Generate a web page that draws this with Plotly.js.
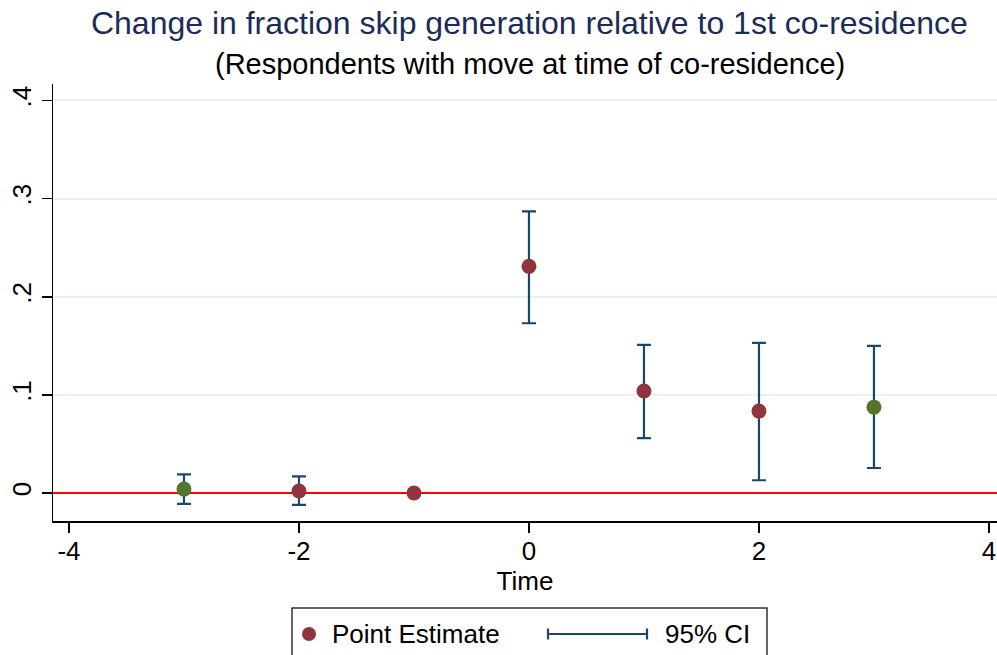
<!DOCTYPE html>
<html>
<head>
<meta charset="utf-8">
<script src="https://cdn.plot.ly/plotly-3.0.1.min.js"></script>
<style>html,body{margin:0;padding:0;background:#fff;}#chart{width:997px;height:655px;}</style>
</head>
<body>
<div id="chart"></div>
<script>
// Data
const time      = [-3, -2, -1, 0, 1, 2, 3];
const estimate  = [0.004, 0.002, 0.000, 0.231, 0.104, 0.0835, 0.0875];
const ciUpper   = [0.019, 0.017, null, 0.287, 0.151, 0.153, 0.150];
const ciLower   = [-0.011, -0.012, null, 0.173, 0.056, 0.013, 0.0255];
const pointGroup = ['green', 'red', 'red', 'red', 'red', 'red', 'green'];
const yTickVals = [0, 0.1, 0.2, 0.3, 0.4];
const yTickText = ['0', '.1', '.2', '.3', '.4'];
const xTickVals = [-4, -2, 0, 2, 4];
const xTickText = ['-4', '-2', '0', '2', '4'];
const legendLabels = ['Point Estimate', '95% CI'];

const NAVY = '#1a476f', MAROON = '#90353b', GREEN = '#55752f', TITLE = '#1c2b5a';
const FONT = 'Liberation Sans, Arial, Helvetica, sans-serif';

// plot-area geometry helpers for the hand-drawn legend (pixels -> paper)
const PL = 53, PR = 997, PT = 84, PB = 521;
const px = v => (v - PL) / (PR - PL);
const py = v => (PB - v) / (PB - PT);

const ciIdx = time.map((t, i) => i).filter(i => ciUpper[i] !== null);
const ciTrace = {
  x: ciIdx.map(i => time[i]),
  y: ciIdx.map(i => estimate[i]),
  type: 'scatter', mode: 'markers',
  marker: {size: 1, color: 'rgba(0,0,0,0)'},
  error_y: {
    type: 'data', symmetric: false,
    array: ciIdx.map(i => ciUpper[i] - estimate[i]),
    arrayminus: ciIdx.map(i => estimate[i] - ciLower[i]),
    color: NAVY, thickness: 2.2, width: 7
  },
  showlegend: false, hoverinfo: 'skip', name: legendLabels[1]
};
const redIdx = time.map((t, i) => i).filter(i => pointGroup[i] === 'red');
const greenIdx = time.map((t, i) => i).filter(i => pointGroup[i] === 'green');
const redTrace = {
  x: redIdx.map(i => time[i]), y: redIdx.map(i => estimate[i]),
  type: 'scatter', mode: 'markers', name: legendLabels[0],
  marker: {size: 15, color: MAROON}, showlegend: false
};
const greenTrace = {
  x: greenIdx.map(i => time[i]), y: greenIdx.map(i => estimate[i]),
  type: 'scatter', mode: 'markers', name: legendLabels[0],
  marker: {size: 15, color: GREEN}, showlegend: false
};

const legY = py(634);
const shapes = [
  {type: 'rect', xref: 'paper', yref: 'paper', x0: px(292), x1: px(767), y0: py(608), y1: py(662),
   line: {color: '#333', width: 1.5}, fillcolor: 'rgba(0,0,0,0)'},
  {type: 'circle', xref: 'paper', yref: 'paper', xsizemode: 'pixel', ysizemode: 'pixel',
   xanchor: px(309), yanchor: legY, x0: -7, x1: 7, y0: -7, y1: 7,
   fillcolor: MAROON, line: {width: 0}},
  {type: 'line', xref: 'paper', yref: 'paper', x0: px(547), x1: px(648), y0: legY, y1: legY,
   line: {color: NAVY, width: 2.2}},
  {type: 'line', xref: 'paper', yref: 'paper', ysizemode: 'pixel', yanchor: legY,
   x0: px(548), x1: px(548), y0: -5.5, y1: 5.5, line: {color: NAVY, width: 2.2}},
  {type: 'line', xref: 'paper', yref: 'paper', ysizemode: 'pixel', yanchor: legY,
   x0: px(647), x1: px(647), y0: -5.5, y1: 5.5, line: {color: NAVY, width: 2.2}}
];

const layout = {
  width: 997, height: 655,
  margin: {l: PL, r: 997 - PR, t: PT, b: 655 - PB},
  paper_bgcolor: '#ffffff', plot_bgcolor: '#ffffff',
  font: {family: FONT, color: '#000', size: 26},
  title: {
    text: 'Change in fraction skip generation relative to 1st co-residence',
    font: {family: FONT, size: 32, color: TITLE},
    x: 0.531, xref: 'container', xanchor: 'center',
    y: 1 - 23 / 655, yref: 'container', yanchor: 'middle'
  },
  annotations: [
    {text: '(Respondents with move at time of co-residence)',
     xref: 'paper', yref: 'paper', x: px(529.5), y: py(64),
     xanchor: 'center', yanchor: 'middle', showarrow: false,
     font: {family: FONT, size: 29, color: '#000'}},
    {text: legendLabels[0], xref: 'paper', yref: 'paper', x: px(330), y: legY,
     xanchor: 'left', yanchor: 'middle', showarrow: false,
     font: {family: FONT, size: 26, color: '#000'}},
    {text: legendLabels[1], xref: 'paper', yref: 'paper', x: px(663), y: legY,
     xanchor: 'left', yanchor: 'middle', showarrow: false,
     font: {family: FONT, size: 26, color: '#000'}}
  ],
  shapes: shapes,
  xaxis: {
    range: [-4.139, 4.07],
    tickvals: xTickVals, ticktext: xTickText,
    showgrid: false, zeroline: false,
    showline: true, linecolor: '#000', linewidth: 1.5,
    ticks: 'outside', ticklen: 10, tickwidth: 1.5, tickcolor: '#000',
    ticklabelstandoff: -4,
    tickfont: {size: 26},
    title: {text: 'Time', font: {size: 26}, standoff: 0}
  },
  yaxis: {
    range: [-0.0285, 0.4168],
    tickvals: yTickVals, ticktext: yTickText,
    tickangle: -90,
    showgrid: true, gridcolor: '#eaf2f3', gridwidth: 2,
    zeroline: true, zerolinecolor: '#ff0000', zerolinewidth: 2,
    showline: true, linecolor: '#000', linewidth: 1.5,
    ticks: 'outside', ticklen: 10, tickwidth: 1.5, tickcolor: '#000',
    tickfont: {size: 26}
  },
  showlegend: false
};

Plotly.newPlot('chart', [ciTrace, redTrace, greenTrace], layout, {displayModeBar: false, staticPlot: true});
</script>
</body>
</html>
